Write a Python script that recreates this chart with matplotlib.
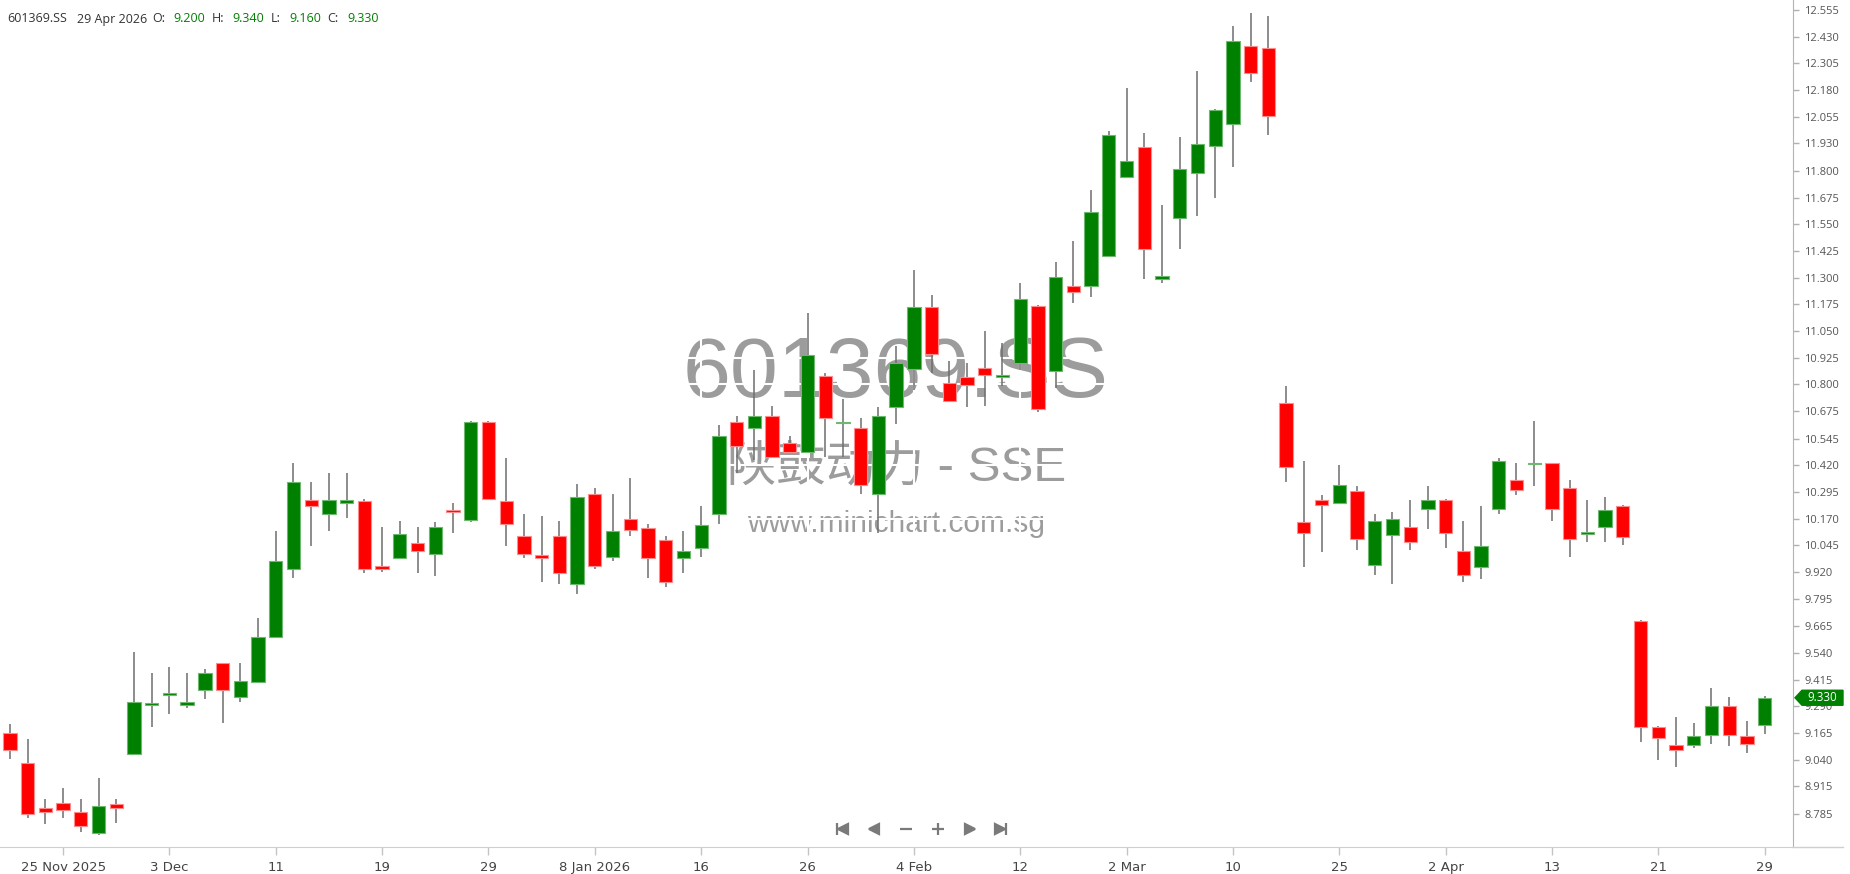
import numpy as np
import matplotlib
matplotlib.use("Agg")
import matplotlib.pyplot as plt
from matplotlib.lines import Line2D
from matplotlib.patches import Polygon
from matplotlib.transforms import blended_transform_factory

plt.rcParams['font.family'] = ['Open Sans', 'DejaVu Sans']

# Datos OHLC diarios (601369.SS)
aperturas = [9.163, 9.023, 8.811, 8.835, 8.793, 8.696, 8.834, 9.066, 9.295, 9.342,
             9.295, 9.365, 9.491, 9.335, 9.404, 9.616, 9.932, 10.259, 10.190, 10.242,
             10.253, 9.948, 9.984, 10.054, 10.003, 10.212, 10.161, 10.622, 10.253, 10.089,
             10.001, 10.089, 9.862, 10.287, 9.992, 10.170, 10.128, 10.070, 9.987, 10.034,
             10.190, 10.621, 10.593, 10.651, 10.523, 10.484, 10.839, 10.617, 10.593, 10.284,
             10.695, 10.870, 11.160, 10.807, 10.835, 10.878, 10.835, 10.898, 11.167, 10.864,
             11.260, 11.260, 11.401, 11.770, 11.910, 11.292, 11.578, 11.789, 11.918, 12.018,
             12.384, 12.378, 10.710, 10.153, 10.259, 10.243, 10.299, 9.951, 10.092, 10.129,
             10.215, 10.259, 10.018, 9.945, 10.213, 10.352, 10.424, 10.429, 10.312, 10.098,
             10.131, 10.229, 9.690, 9.192, 9.110, 9.107, 9.156, 9.292, 9.151, 9.200]
maximos = [9.207, 9.135, 8.854, 8.905, 8.854, 8.952, 8.854, 9.543, 9.445, 9.473,
           9.445, 9.463, 9.494, 9.491, 9.702, 10.112, 10.429, 10.340, 10.382, 10.382,
           10.260, 10.129, 10.159, 10.129, 10.153, 10.242, 10.626, 10.626, 10.453, 10.190,
           10.182, 10.159, 10.331, 10.314, 10.287, 10.359, 10.143, 10.086, 10.112, 10.229,
           10.609, 10.651, 10.867, 10.698, 10.557, 11.132, 10.851, 10.729, 10.640, 10.692,
           10.979, 11.336, 11.218, 10.909, 10.898, 11.049, 10.992, 11.273, 11.171, 11.374,
           11.471, 11.710, 11.987, 12.187, 11.979, 11.640, 11.957, 12.268, 12.088, 12.479,
           12.539, 12.526, 10.792, 10.440, 10.282, 10.423, 10.323, 10.190, 10.199, 10.259,
           10.323, 10.264, 10.159, 10.231, 10.452, 10.429, 10.627, 10.432, 10.352, 10.259,
           10.271, 10.235, 9.695, 9.198, 9.240, 9.210, 9.374, 9.332, 9.223, 9.340]
minimos = [9.041, 8.768, 8.738, 8.768, 8.702, 8.685, 8.743, 9.060, 9.195, 9.252,
           9.281, 9.323, 9.210, 9.310, 9.400, 9.612, 9.890, 10.043, 10.113, 10.171,
           9.913, 9.918, 9.980, 9.913, 9.903, 10.101, 10.153, 10.258, 10.043, 9.984,
           9.873, 9.862, 9.815, 9.932, 9.973, 10.086, 9.893, 9.851, 9.914, 9.992,
           10.143, 10.382, 10.445, 10.455, 10.480, 10.480, 10.460, 10.460, 10.284, 10.101,
           10.612, 10.773, 10.851, 10.720, 10.695, 10.700, 10.792, 10.867, 10.670, 10.781,
           11.179, 11.207, 11.398, 11.765, 11.292, 11.273, 11.432, 11.589, 11.671, 11.820,
           12.217, 11.970, 10.342, 9.945, 10.015, 10.240, 10.021, 9.904, 9.862, 10.021,
           10.120, 10.032, 9.874, 9.885, 10.190, 10.282, 10.323, 10.160, 9.992, 10.060,
           10.060, 10.045, 9.124, 9.037, 9.007, 9.096, 9.112, 9.106, 9.073, 9.160]
cierres = [9.083, 8.783, 8.796, 8.804, 8.727, 8.824, 8.815, 9.309, 9.304, 9.345,
           9.309, 9.445, 9.365, 9.409, 9.613, 9.971, 10.340, 10.231, 10.259, 10.259,
           9.932, 9.932, 10.100, 10.020, 10.129, 10.201, 10.622, 10.261, 10.143, 10.003,
           9.985, 9.915, 10.270, 9.949, 10.112, 10.115, 9.987, 9.875, 10.018, 10.140,
           10.557, 10.512, 10.651, 10.460, 10.484, 10.937, 10.643, 10.621, 10.328, 10.651,
           10.898, 11.161, 10.940, 10.723, 10.795, 10.842, 10.838, 11.201, 10.682, 11.301,
           11.232, 11.606, 11.968, 11.845, 11.432, 11.306, 11.809, 11.926, 12.085, 12.407,
           12.259, 12.057, 10.412, 10.103, 10.232, 10.329, 10.074, 10.159, 10.170, 10.062,
           10.259, 10.103, 9.904, 10.042, 10.440, 10.302, 10.427, 10.213, 10.074, 10.101,
           10.212, 10.084, 9.195, 9.143, 9.085, 9.152, 9.292, 9.156, 9.113, 9.330]

ultima_fecha = "29 Apr 2026"

# Etiquetas del eje x (indice de vela -> fecha)
idx_fechas = [3, 9, 15, 21, 27, 33, 39, 45, 51, 57, 63, 69, 75, 81, 87, 93, 99]
etiquetas_fechas = ["25 Nov 2025", "3 Dec", "11", "19", "29", "8 Jan 2026", "16", "26",
                    "4 Feb", "12", "2 Mar", "10", "25", "2 Apr", "13", "21", "29"]

# Etiquetas del eje de precios
etiquetas_precio = ["12.555", "12.430", "12.305", "12.180", "12.055", "11.930", "11.800",
                    "11.675", "11.550", "11.425", "11.300", "11.175", "11.050", "10.925",
                    "10.800", "10.675", "10.545", "10.420", "10.295", "10.170", "10.045",
                    "9.920", "9.795", "9.665", "9.540", "9.415", "9.290", "9.165", "9.040",
                    "8.915", "8.785"]

VERDE = "#008000"
ROJO = "#ff0000"

W, H = 1850, 874
fig = plt.figure(figsize=(W / 100, H / 100), dpi=100)
ax = fig.add_axes([0, 1 - 847 / H, 1793 / W, 847 / H])

o = np.array(aperturas)
h = np.array(maximos)
l = np.array(minimos)
c = np.array(cierres)
x = np.arange(len(o))
sube = c >= o
colores = np.where(sube, VERDE, ROJO)
bordes = np.where(sube, "#6fb86f", "#ff8c8c")

ax.vlines(x, l, h, color="#6e6e6e", lw=1.1, zorder=2)
base = np.minimum(o, c)
alto = np.maximum(np.abs(c - o), 0.008)
ax.bar(x, alto, bottom=base, width=0.75, color=colores, edgecolor=bordes,
       linewidth=0.8, zorder=3)

ax.set_xlim(-0.5585, 100.6)
ax.set_ylim(8.6303, 12.6012)

ax.set_xticks(idx_fechas)
ax.set_xticklabels(etiquetas_fechas, family=["Liberation Sans Narrow", "DejaVu Sans"],
                   fontsize=9.5, color="#444444")
ax.tick_params(axis="x", length=6, width=1, color="#c4c4c4", pad=4)

ax.yaxis.tick_right()
ax.set_yticks([float(s) for s in etiquetas_precio])
ax.set_yticklabels(etiquetas_precio, fontsize=8, color="#555555")
ax.tick_params(axis="y", length=4, width=1, color="#b0b0b0", pad=4)

for lado in ["top", "left"]:
    ax.spines[lado].set_visible(False)
ax.spines["right"].set_color("#b4b4b4")
ax.spines["bottom"].set_color("#cfcfcf")
ax.grid(True, color="white", lw=1.5)
ax.set_axisbelow("line")
fig.add_artist(Line2D([1793 / W, 1843 / W], [1 - 847 / H] * 2, color="#cfcfcf", lw=1))

# Marca de agua
gris = "#9c9c9c"
ax.text(896 / W, 1 - 397 / H, "601369.SS", transform=fig.transFigure, ha="center",
        va="baseline", fontsize=62, color=gris, family=["Liberation Sans", "DejaVu Sans"],
        zorder=1)
ax.text(897 / W, 1 - 481 / H, "陕鼓动力 - SSE", transform=fig.transFigure, ha="center",
        va="baseline", fontsize=35.5, color=gris,
        family=["Liberation Sans", "Noto Sans CJK SC"], zorder=1)
ax.text(896 / W, 1 - 532 / H, "www.minichart.com.sg", transform=fig.transFigure,
        ha="center", va="baseline", fontsize=21.5, color=gris,
        family=["Liberation Sans", "DejaVu Sans"], zorder=1)

# Etiqueta del ultimo precio
tr = blended_transform_factory(fig.transFigure, ax.transData)
dy = 7.5 / 213.3
x0, x1, x2 = 1795 / W, 1802 / W, 1843 / W
etiqueta = Polygon([(x0, c[-1]), (x1, c[-1] + dy), (x2, c[-1] + dy),
                    (x2, c[-1] - dy), (x1, c[-1] - dy)], closed=True,
                   facecolor=VERDE, edgecolor=VERDE, transform=tr, clip_on=False, zorder=5)
ax.add_patch(etiqueta)
ax.text(1822 / W, c[-1], f"{c[-1]:.3f}", transform=tr, ha="center", va="center",
        fontsize=8.3, color="white", clip_on=False, zorder=6)

# Cabecera OHLC
yc = 1 - 22.5 / H
piezas = [(7, "601369.SS", "#333333"), (77, ultima_fecha, "#333333"),
          (152, "O:", "#333333"), (173, f"{o[-1]:.3f}", VERDE),
          (212, "H:", "#333333"), (232, f"{h[-1]:.3f}", VERDE),
          (271, "L:", "#333333"), (289, f"{l[-1]:.3f}", VERDE),
          (327, "C:", "#333333"), (347, f"{c[-1]:.3f}", VERDE)]
for px, txt, col in piezas:
    fig.text(px / W, yc, txt, ha="left", va="baseline", fontsize=9, color=col)

# Controles de navegacion
yn = 1 - 829 / H
gris_nav = "#7a7a7a"
def marca(px, m, s):
    fig.add_artist(Line2D([px / W], [yn], marker=m, markersize=s, color=gris_nav,
                          markeredgecolor=gris_nav, markeredgewidth=1.6, linestyle="none"))
marca(837, "|", 9)
marca(843, "<", 7)
marca(874, "<", 7)
marca(906, "_", 9)
marca(938, "+", 9)
marca(970, ">", 7)
marca(1000, ">", 7)
marca(1006, "|", 9)

fig.savefig("out.png", dpi=100)
